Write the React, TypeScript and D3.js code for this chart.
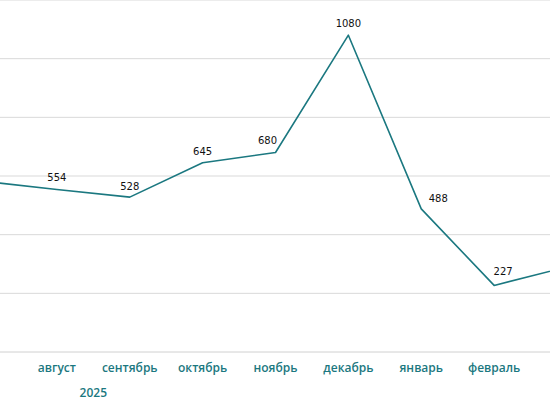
import * as d3 from 'd3'

const months = ['июль', 'август', 'сентябрь', 'октябрь', 'ноябрь', 'декабрь', 'январь', 'февраль', 'март']
const values = [582, 554, 528, 645, 680, 1080, 488, 227, 290]
// which months get a visible label / value
const shown = [false, true, true, true, true, true, true, true, false]
const yTicks = [0, 200, 400, 600, 800, 1000, 1200]
const yearLabel = '2025'
// small label nudges (dx, dy) like the original
const labelDx = [0, 0, 0, 0, -8, 0, 17, 9, 0]
const labelDy = [0, -12, -11, -11, -12, -12, -10, -14, 0]

export default function App() {
  const width = 550
  const height = 410
  const marginTop = 0
  const baseline = 352

  const x = d3.scalePoint<string>().domain(months).range([-16, 567])
  const y = d3.scaleLinear().domain([0, 1200]).range([baseline, marginTop])

  const line = d3
    .line<number>()
    .x((_, i) => x(months[i])!)
    .y((d) => y(d))

  const yearX = (x(months[1])! + x(months[2])!) / 2

  return (
    <svg
      width={width}
      height={height}
      style={{ position: 'absolute', left: 0, top: 0, background: '#fff' }}
    >
      <g>
        {yTicks.map((t) => (
          <line
            key={t}
            x1={0}
            x2={width}
            y1={y(t)}
            y2={y(t)}
            stroke={t === 0 ? '#d0d0d0' : '#d9d9d9'}
            strokeWidth={1}
          />
        ))}
      </g>
      <path d={line(values) ?? ''} fill="none" stroke="#1b7880" strokeWidth={1.6} strokeLinejoin="round" />
      <g fontFamily="'DejaVu Sans', sans-serif" fontSize={10} fill="#111" textAnchor="middle">
        {values.map((v, i) =>
          shown[i] ? (
            <text key={i} x={x(months[i])! + labelDx[i]} y={y(v) + labelDy[i]} dy="0.35em">
              {v}
            </text>
          ) : null
        )}
      </g>
      <g fontFamily="'Open Sans', sans-serif" fontSize={12} fontWeight={600} fill="#1b7880" textAnchor="middle">
        {months.map((m, i) =>
          shown[i] ? (
            <text key={m} x={x(m)} y={368} dy="0.35em">
              {m}
            </text>
          ) : null
        )}
        <text x={yearX} y={393} dy="0.35em">
          {yearLabel}
        </text>
      </g>
    </svg>
  )
}
